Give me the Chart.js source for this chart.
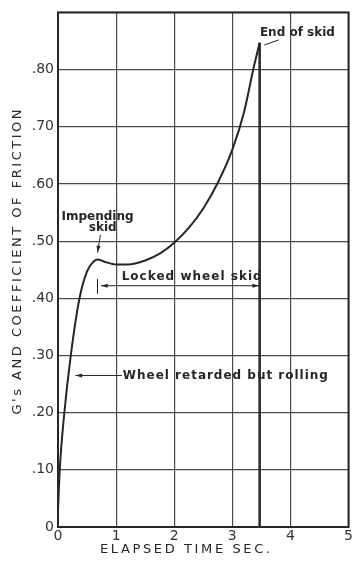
<!DOCTYPE html>
<html lang="en">
<head>
  <meta charset="UTF-8" />
  <title>Skid friction vs elapsed time</title>
  <script src="https://cdn.jsdelivr.net/npm/chart.js"></script>
  <style>
    body {
      margin: 0;
      background: #fff;
    }
    canvas {
      display: block;
    }
  </style>
</head>
<body>

<canvas id="skidChart" width="354" height="561"></canvas>

<script>
  // curve: elapsed time (sec) vs G's / coefficient of friction
  const timeSec = [0, 0.03, 0.1, 0.22, 0.37, 0.5, 0.6, 0.68, 0.8, 1.0, 1.2, 1.5, 1.75, 2.0, 2.25, 2.5, 2.75, 3.0, 3.2, 3.36, 3.47];
  const friction = [0.03, 0.10, 0.19, 0.30, 0.40, 0.447, 0.463, 0.468, 0.464, 0.459, 0.459, 0.466, 0.478, 0.497, 0.523, 0.557, 0.602, 0.66, 0.725, 0.80, 0.847];

  // drop at end of skid
  const dropTime = [3.47, 3.47];
  const dropValue = [0.847, 0];

  const xTicks = [0, 1, 2, 3, 4, 5];
  const yTicks = [0, 0.1, 0.2, 0.3, 0.4, 0.5, 0.6, 0.7, 0.8, 0.9];

  const ink = '#262626';
  const font = "'DejaVu Sans', sans-serif";

  function yLabel(v) {
    if (v === 0) return '0';
    if (v > 0.85) return '';
    return '.' + Math.round(v * 100);
  }

  // draws text stretched to a given width
  function spacedText(ctx, text, cx, cy, width) {
    ctx.letterSpacing = '0px';
    const w = ctx.measureText(text).width;
    const gap = Math.max(0, (width - w) / (text.length - 1));
    ctx.letterSpacing = gap + 'px';
    ctx.fillText(text, cx + gap / 2, cy);
    ctx.letterSpacing = '0px';
  }

  function arrow(ctx, x1, y1, x2, y2) {
    ctx.beginPath();
    ctx.moveTo(x1, y1);
    ctx.lineTo(x2, y2);
    ctx.stroke();
    const ang = Math.atan2(y2 - y1, x2 - x1);
    ctx.beginPath();
    ctx.moveTo(x2, y2);
    ctx.lineTo(x2 - 7 * Math.cos(ang - 0.3), y2 - 7 * Math.sin(ang - 0.3));
    ctx.lineTo(x2 - 7 * Math.cos(ang + 0.3), y2 - 7 * Math.sin(ang + 0.3));
    ctx.closePath();
    ctx.fill();
  }

  const notesPlugin = {
    id: 'notes',
    afterDraw(chart) {
      const { ctx, chartArea: a, scales: { x, y } } = chart;
      const px = t => x.getPixelForValue(t);
      const py = v => y.getPixelForValue(v);

      ctx.save();
      ctx.strokeStyle = ink;
      ctx.fillStyle = ink;

      // frame
      ctx.lineWidth = 2;
      ctx.strokeRect(a.left, a.top, a.right - a.left, a.bottom - a.top);

      ctx.textAlign = 'center';
      ctx.textBaseline = 'middle';

      // axis titles
      ctx.font = '13px ' + font;
      ctx.save();
      ctx.translate(18, 262);
      ctx.rotate(-Math.PI / 2);
      spacedText(ctx, "G's AND COEFFICIENT OF FRICTION", 0, 0, 305);
      ctx.restore();
      spacedText(ctx, 'ELAPSED TIME SEC.', 185, 550, 170);

      // annotations
      ctx.lineWidth = 1;
      ctx.font = 'bold 12px ' + font;
      spacedText(ctx, 'Impending', px(0.68), py(0.542), 70);
      spacedText(ctx, 'skid', px(0.77), py(0.523), 27);
      arrow(ctx, px(0.73), py(0.511), px(0.68), py(0.48));

      spacedText(ctx, 'Locked wheel skid', px(2.3), py(0.437), 140);
      ctx.beginPath();
      ctx.moveTo(px(0.68), py(0.434));
      ctx.lineTo(px(0.68), py(0.408));
      ctx.stroke();
      arrow(ctx, px(2.0), py(0.422), px(0.74), py(0.422));
      arrow(ctx, px(2.0), py(0.422), px(3.46), py(0.422));

      spacedText(ctx, 'Wheel retarded but rolling', px(2.88), py(0.265), 205);
      arrow(ctx, px(1.1), py(0.265), px(0.3), py(0.265));

      spacedText(ctx, 'End of skid', px(4.12), py(0.864), 75);
      ctx.beginPath();
      ctx.moveTo(px(3.8), py(0.852));
      ctx.lineTo(px(3.55), py(0.843));
      ctx.stroke();

      ctx.restore();
    }
  };

  const ctx = document.getElementById('skidChart').getContext('2d');
  new Chart(ctx, {
    type: 'line',
    data: {
      datasets: [
        {
          data: timeSec.map((t, i) => ({ x: t, y: friction[i] })),
          borderColor: ink,
          borderWidth: 2,
          pointRadius: 0,
          cubicInterpolationMode: 'monotone'
        },
        {
          data: dropTime.map((t, i) => ({ x: t, y: dropValue[i] })),
          borderColor: ink,
          borderWidth: 2.5,
          pointRadius: 0,
          tension: 0
        }
      ]
    },
    options: {
      responsive: false,
      animation: false,
      layout: { padding: { top: 5, right: 2, left: 0, bottom: 0 } },
      plugins: {
        legend: { display: false },
        tooltip: { enabled: false }
      },
      scales: {
        x: {
          type: 'linear',
          min: 0,
          max: 5,
          afterBuildTicks: s => { s.ticks = xTicks.map(v => ({ value: v })); },
          afterFit: s => { s.height = 34; },
          grid: { color: '#4a4a4a', lineWidth: 1.2, drawTicks: false },
          border: { display: false },
          ticks: {
            color: '#333',
            padding: 1,
            font: { family: font, size: 14 },
            callback: v => String(v)
          }
        },
        y: {
          min: 0,
          max: 0.9,
          afterBuildTicks: s => { s.ticks = yTicks.map(v => ({ value: v })); },
          afterFit: s => { s.width = 58; },
          grid: { color: '#4a4a4a', lineWidth: 1.2, drawTicks: false },
          border: { display: false },
          ticks: {
            color: '#333',
            padding: 4,
            font: { family: font, size: 14 },
            callback: v => yLabel(v)
          }
        }
      }
    },
    plugins: [notesPlugin]
  });
</script>

</body>
</html>
